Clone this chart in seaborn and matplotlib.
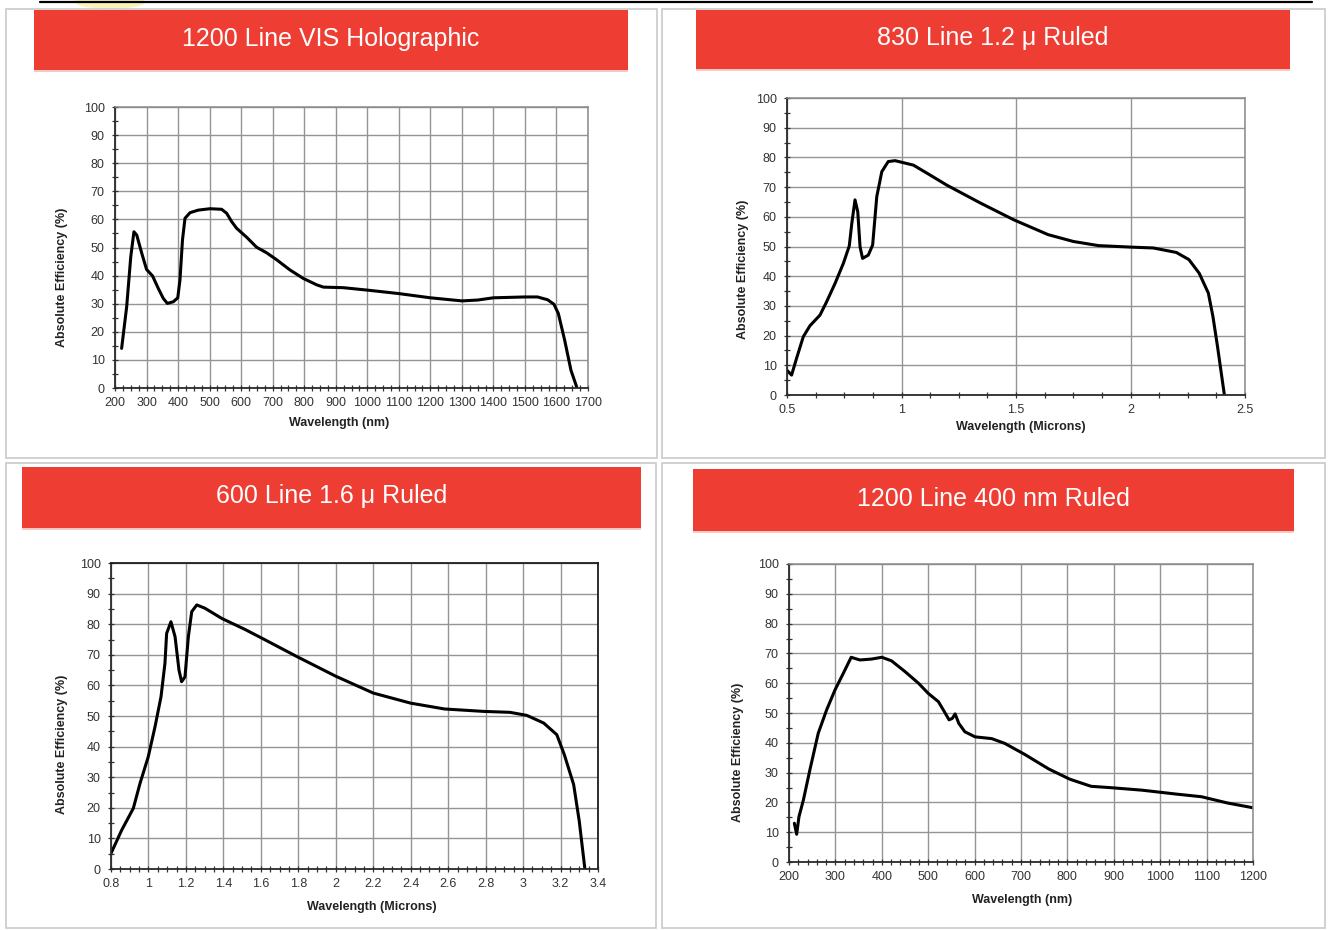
import matplotlib
matplotlib.use("Agg")
import matplotlib.pyplot as plt
from matplotlib.patches import Rectangle, Ellipse
from matplotlib.ticker import MultipleLocator
import pandas as pd
import seaborn as sns

# grating efficiency curves
holo_nm = [221, 237, 250, 260, 269, 285, 300, 319, 337, 353, 366, 385, 399,
           406, 414, 422, 438, 464, 501, 538, 554, 570, 586, 618, 649, 681,
           713, 755, 797, 840, 861, 924, 1003, 1100, 1200, 1300, 1350, 1400,
           1500, 1540, 1572, 1592, 1606, 1626, 1646, 1664]
holo_eff = [14.1, 28.9, 46.7, 55.6, 54.4, 47.9, 42.2, 39.9, 35.5, 31.9, 30.1,
            30.7, 32.1, 38.4, 52.7, 60.4, 62.4, 63.3, 63.8, 63.6, 62.2, 59.2,
            56.8, 53.6, 50.1, 48.1, 45.6, 42.0, 39.0, 36.7, 35.9, 35.7, 34.8,
            33.6, 32.1, 31.0, 31.3, 32.1, 32.4, 32.4, 31.4, 29.8, 26.5, 17.0,
            6.3, 0.4]

r830_um = [0.499, 0.52, 0.542, 0.571, 0.60, 0.644, 0.673, 0.71, 0.746, 0.772,
           0.783, 0.797, 0.809, 0.819, 0.83, 0.855, 0.874, 0.892, 0.914,
           0.942, 0.972, 1.052, 1.124, 1.197, 1.343, 1.49, 1.64, 1.75, 1.86,
           2.0, 2.1, 2.2, 2.255, 2.30, 2.34, 2.36, 2.38, 2.41]
r830_eff = [8.4, 6.7, 12.4, 19.6, 23.3, 26.9, 31.4, 37.6, 44.3, 50.2, 57.8,
            65.7, 61.7, 49.9, 46.0, 47.1, 50.5, 66.8, 75.2, 78.6, 78.9, 77.4,
            74.1, 70.7, 64.7, 59.0, 54.0, 51.7, 50.3, 49.8, 49.5, 48.0, 45.6,
            41.0, 34.3, 26.4, 16.3, 0.0]

r600_um = [0.80, 0.857, 0.919, 0.955, 0.999, 1.035, 1.067, 1.088, 1.097, 1.12,
           1.142, 1.163, 1.177, 1.195, 1.213, 1.231, 1.258, 1.302, 1.391,
           1.515, 1.619, 1.79, 2.0, 2.2, 2.4, 2.58, 2.79, 2.93, 3.02, 3.11,
           3.18, 3.22, 3.27, 3.30, 3.33]
r600_eff = [5.1, 12.7, 19.8, 28.0, 36.7, 46.5, 56.3, 67.2, 77.0, 80.8, 75.9,
            65.0, 61.2, 62.8, 75.9, 84.1, 86.3, 85.2, 81.9, 78.3, 75.0, 69.5,
            63.0, 57.5, 54.2, 52.3, 51.5, 51.2, 50.2, 47.7, 43.9, 37.4, 27.6,
            15.6, 0.0]

r1200_nm = [211.5, 216.5, 221.5, 231, 245, 263, 281, 299, 317, 334, 342, 353,
            378, 400, 421, 450, 479, 500, 522, 535, 545, 552, 558, 566, 579,
            601, 637, 665, 707, 760, 805, 851, 897, 961, 1034, 1089, 1145,
            1200]
r1200_eff = [13.0, 9.3, 15.2, 20.8, 30.9, 43.2, 51.0, 57.7, 63.3, 68.7, 68.3,
             67.8, 68.1, 68.7, 67.5, 63.9, 60.0, 56.6, 53.8, 50.4, 47.7, 48.2,
             49.7, 46.5, 43.7, 42.0, 41.4, 39.8, 36.2, 31.2, 27.8, 25.4, 24.9,
             24.1, 22.8, 21.9, 19.8, 18.2]

titles = ["1200 Line VIS Holographic", "830 Line 1.2 \u03bc Ruled",
          "600 Line 1.6 \u03bc Ruled", "1200 Line 400 nm Ruled"]
x_labels = ["Wavelength (nm)", "Wavelength (Microns)",
            "Wavelength (Microns)", "Wavelength (nm)"]
y_label = "Absolute Efficiency (%)"

holo_ticks = list(range(200, 1701, 100))
r830_ticks = [0.5, 1, 1.5, 2, 2.5]
r830_ticklabels = ["0.5", "1", "1.5", "2", "2.5"]
r600_ticks = [0.8, 1.0, 1.2, 1.4, 1.6, 1.8, 2.0, 2.2, 2.4, 2.6, 2.8, 3.0,
              3.2, 3.4]
r600_ticklabels = ["0.8", "1", "1.2", "1.4", "1.6", "1.8", "2", "2.2", "2.4",
                   "2.6", "2.8", "3", "3.2", "3.4"]
r1200_ticks = list(range(200, 1201, 100))

W, H = 1332, 930
RED = "#ee3d33"


def px_rect(x0, y0, x1, y1):
    return [x0 / W, 1 - y1 / H, (x1 - x0) / W, (y1 - y0) / H]


sns.set_style("white")
plt.rcParams["font.family"] = ["Liberation Sans", "DejaVu Sans"]

fig = plt.figure(figsize=(W / 100, H / 100), dpi=100)

# page decorations: top rule, panel frames, faint yellow smudge
fig.add_artist(Ellipse((110 / W, 1 - 2 / H), 70 / W, 14 / H,
                       transform=fig.transFigure, color="#f7ef9c", alpha=0.7,
                       lw=0))
fig.add_artist(plt.Line2D([40 / W, 1312 / W], [1 - 2.5 / H, 1 - 2.5 / H],
                          transform=fig.transFigure, color="black", lw=1.6))
for box in [(6, 9, 657, 458), (662, 9, 1325, 458),
            (6, 463, 656, 928), (662, 463, 1325, 928)]:
    x0, y0, x1, y1 = box
    fig.add_artist(Rectangle((x0 / W, 1 - y1 / H), (x1 - x0) / W,
                             (y1 - y0) / H, transform=fig.transFigure,
                             fill=False, edgecolor="#c9c9c9", lw=1.2))

panels = [
    dict(x=holo_nm, y=holo_eff, xlim=(200, 1700), ticks=holo_ticks,
         ticklabels=[str(t) for t in holo_ticks], minor=25,
         axes=(115, 107, 588, 388), banner=(34, 10, 628, 70),
         xlab_at=(0.474, -0.125), ylab_at=(-0.112, 0.395), dark_frame=False),
    dict(x=r830_um, y=r830_eff, xlim=(0.5, 2.5), ticks=r830_ticks,
         ticklabels=r830_ticklabels, minor=0.125,
         axes=(787, 98, 1245, 395), banner=(696, 10, 1290, 69),
         xlab_at=(0.511, -0.108), ylab_at=(-0.096, 0.424), dark_frame=False),
    dict(x=r600_um, y=r600_eff, xlim=(0.8, 3.4), ticks=r600_ticks,
         ticklabels=r600_ticklabels, minor=0.05,
         axes=(111, 563, 598, 869), banner=(22, 467, 641, 528),
         xlab_at=(0.536, -0.124), ylab_at=(-0.100, 0.408), dark_frame=True),
    dict(x=r1200_nm, y=r1200_eff, xlim=(200, 1200), ticks=r1200_ticks,
         ticklabels=[str(t) for t in r1200_ticks], minor=20,
         axes=(789, 564, 1253, 862), banner=(693, 469, 1294, 531),
         xlab_at=(0.502, -0.128), ylab_at=(-0.110, 0.369), dark_frame=False),
]

for p, title, xlab in zip(panels, titles, x_labels):
    bx0, by0, bx1, by1 = p["banner"]
    fig.add_artist(Rectangle((bx0 / W, 1 - by1 / H), (bx1 - bx0) / W,
                             (by1 - by0) / H, transform=fig.transFigure,
                             facecolor=RED, edgecolor="none"))
    fig.add_artist(Rectangle((bx0 / W, 1 - (by1 + 2) / H), (bx1 - bx0) / W,
                             2 / H, transform=fig.transFigure,
                             facecolor="#f6c9c4", edgecolor="none"))
    fig.text((bx0 + bx1) / 2 / W, 1 - ((by0 + by1) / 2 - 1) / H, title,
             color="white", fontsize=18, ha="center", va="center")

    ax = fig.add_axes(px_rect(*p["axes"]))
    df = pd.DataFrame({"wavelength": p["x"], "efficiency": p["y"]})
    sns.lineplot(data=df, x="wavelength", y="efficiency", ax=ax, sort=False,
                 estimator=None, color="black", lw=2.2)
    ax.set_xlim(*p["xlim"])
    ax.set_ylim(0, 100)
    ax.set_xticks(p["ticks"])
    ax.set_xticklabels(p["ticklabels"])
    ax.set_yticks(range(0, 101, 10))
    ax.xaxis.set_minor_locator(MultipleLocator(p["minor"]))
    ax.yaxis.set_minor_locator(MultipleLocator(5))
    ax.grid(True, which="major", color="#949494", lw=1.0)
    ax.tick_params(which="both", direction="inout", length=5, width=0.9,
                   color="#333333", labelsize=9, labelcolor="#333333",
                   bottom=True, left=True, top=False, right=False)
    ax.tick_params(axis="x", pad=4)
    ax.tick_params(axis="y", pad=5)
    for side in ["left", "bottom"]:
        ax.spines[side].set_color("#2a2a2a")
        ax.spines[side].set_linewidth(1.3)
    for side in ["top", "right"]:
        ax.spines[side].set_color("#1e1e1e" if p["dark_frame"] else "#8a8a8a")
        ax.spines[side].set_linewidth(1.3 if p["dark_frame"] else 1.1)

    ax.set_xlabel(xlab, fontsize=9, fontweight="bold", color="#222222",
                  va="center")
    ax.set_ylabel(y_label, fontsize=9, fontweight="bold", color="#222222",
                  va="center")
    ax.xaxis.set_label_coords(*p["xlab_at"])
    ax.yaxis.set_label_coords(*p["ylab_at"])

fig.savefig("out.png", dpi=100, facecolor="white")
